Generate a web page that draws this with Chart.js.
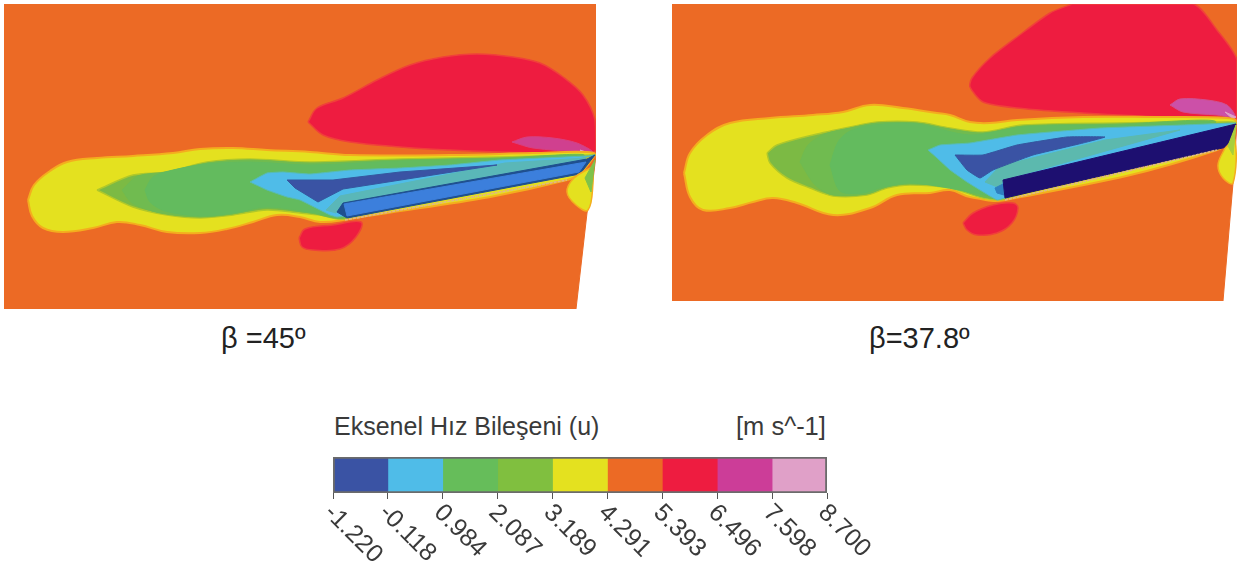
<!DOCTYPE html>
<html lang="tr"><head><meta charset="utf-8">
<script src="https://cdn.jsdelivr.net/npm/chart.js@4"></script>
<style>
html,body{margin:0;padding:0;background:#fff;width:1240px;height:571px;overflow:hidden;font-family:"Liberation Sans",Arial,sans-serif}
canvas{position:absolute;display:block}
#c45{left:4px;top:4px;filter:blur(.7px)}
#c378{left:672px;top:4px;filter:blur(.7px)}
#cbar{left:300px;top:450px;filter:blur(.4px)}
.t{position:absolute;white-space:nowrap;color:#222}
#cap1{left:221px;top:322px;font-size:29px}
#cap2{left:869px;top:322px;font-size:29px}
#lt{left:334px;top:412px;font-size:25px;color:#3a3a3a}
#lu{left:736px;top:412px;font-size:25.5px;color:#3a3a3a}
</style></head><body>
<canvas id="c45" width="592" height="305"></canvas>
<canvas id="c378" width="565" height="297"></canvas>
<canvas id="cbar" width="600" height="121"></canvas>
<div class="t" id="cap1">β =45º</div>
<div class="t" id="cap2">β=37.8º</div>
<div class="t" id="lt">Eksenel Hız Bileşeni (u)</div>
<div class="t" id="lu">[m s^-1]</div>
<script>
// ---- colour scale ----
const levels = [-1.220,-0.118,0.984,2.087,3.189,4.291,5.393,6.496,7.598,8.700];
const bandColors = ['#3a53a4','#4fbce8','#66bd5a','#80bf3f','#e4e11f','#ec6a25','#ee1c40','#cc3d98','#e0a0c8'];

// ---- β = 45° contour outlines (x, y in the plot's own units) ----
const domain45 = [[4,4],[596,4],[596,155],[593,180],[587,213],[576,309],[4,309],[4,4]];
const red45 = [[308,122],[317,108],[343,98],[377,80],[410,65],[443,57],[477,54],[513,57],[540,63],[563,77],[583,95],[595,120],[596,150],[580,153],[500,152],[450,150],[400,147],[350,142],[323,135],[308,122]];
const pink45 = [[512,142],[527,137],[553,138],[577,143],[593,152],[580,152],[533,148],[512,142]];
const lilac45 = [[580,150],[595,155],[584,154],[580,150]];
const redSmall45 = [[299,238],[305,229],[333,225],[361,222],[356,237],[340,249],[313,250],[302,247],[299,238]];
const yellow45 = [[28,200],[34,185],[50,171],[67,162],[97,158],[133,156],[173,153],[200,149],[233,148],[267,150],[310,152],[350,155],[450,155],[533,153],[587,152],[595,155],[567,180],[343,220],[320,222],[300,217],[277,215],[253,222],[227,229],[200,233],[167,232],[140,225],[117,222],[93,228],[63,232],[43,228],[32,216],[28,200]];
const green45 = [[97,190],[133,175],[167,172],[207,162],[250,159],[310,162],[400,159],[500,157],[587,155],[595,155],[345,219],[320,215],[300,213],[267,210],[233,215],[200,218],[167,215],[133,207],[97,190]];
const greenMid45 = [[122,190],[138,176],[167,172],[207,163],[250,160],[310,163],[400,160],[500,158],[583,156],[345,218],[310,213],[267,208],[233,214],[200,217],[160,213],[132,203],[122,190]];
const greenIn45 = [[145,190],[153,177],[173,170],[207,164],[250,162],[310,165],[400,161],[500,159],[575,157],[345,217],[310,212],[267,207],[233,213],[200,216],[165,211],[150,202],[145,190]];
const cyan45 = [[250,182],[267,173],[283,172],[310,174],[350,170],[400,168],[450,165],[500,160],[587,156],[595,155],[345,216],[337,217],[330,215],[300,200],[287,197],[267,190],[250,182]];
const teal45 = [[505,163],[585,158],[585,162],[343,205],[336,213],[326,210],[340,196],[505,163]];
const blue45 = [[287,180],[300,180],[333,180],[400,172],[497,165],[343,189],[318,202],[295,188],[287,180]];
const navyTip45 = [[337,212],[343,203],[587,159],[595,155],[580,174],[347,218],[337,212]];
const blade45 = [[344,204],[586,162],[579,172],[347,216],[344,204]];
const edge45 = [[345,220],[567,180]];
const bump45 = [[592,167],[574,178],[567,192],[576,205],[588,210],[593,183],[592,167]];
const sliver45 = [[595,160],[585,178],[591,192],[595,160]];

// ---- β = 37.8° contour outlines ----
const domain378 = [[672,4],[1237,4],[1237,123],[1233,183],[1223,301],[672,301],[672,4]];
const red378 = [[1072,4],[1050,13],[1017,37],[990,58],[972,78],[970,87],[983,102],[1017,108],[1083,113],[1167,117],[1227,117],[1237,118],[1237,60],[1217,30],[1193,4],[1072,4]];
const pink378 = [[1170,105],[1180,99],[1207,100],[1227,105],[1235,117],[1217,115],[1183,112],[1170,105]];
const lilac378 = [[1225,112],[1236,117],[1233,119],[1225,112]];
const redSmall378 = [[963,223],[973,213],[993,205],[1013,203],[1018,208],[1012,223],[997,233],[977,235],[967,230],[963,223]];
const yellow378 = [[684,173],[690,153],[707,135],[730,123],[770,118],[813,115],[843,112],[870,105],[903,108],[937,113],[950,115],[970,122],[990,123],[1017,120],[1083,117],[1150,117],[1227,118],[1236,122],[1217,150],[1005,200],[970,197],[950,190],[930,193],[897,195],[870,208],[833,215],[797,203],[773,198],[753,202],[730,208],[703,210],[690,197],[684,173]];
const green378 = [[767,153],[777,145],[813,135],[850,127],[877,122],[917,122],[950,128],[983,132],[1023,125],[1117,123],[1217,122],[1236,123],[1005,199],[983,198],[950,188],[910,185],[887,188],[867,195],[833,196],[810,188],[787,178],[770,163],[767,153]];
const greenMid378 = [[800,162],[808,145],[825,134],[850,128],[877,123],[917,123],[950,129],[983,133],[1023,126],[1117,124],[1215,123],[1004,198],[983,197],[950,187],[910,184],[887,187],[867,194],[833,195],[815,185],[800,162]];
const greenIn378 = [[830,165],[838,142],[850,131],[873,125],[917,124],[970,135],[1023,127],[1117,125],[1210,124],[1003,196],[970,192],[943,187],[910,183],[883,187],[863,193],[840,191],[830,165]];
const cyan378 = [[928,150],[940,145],[970,143],[1017,135],[1100,128],[1183,125],[1233,123],[1236,123],[1005,198],[997,200],[967,182],[950,170],[937,158],[928,150]];
const teal378 = [[1105,140],[1180,130],[1003,180],[1000,188],[985,182],[1000,166],[1105,140]];
const blue378 = [[955,155],[983,155],[1017,145],[1067,137],[1105,137],[1083,143],[1033,155],[993,170],[980,178],[967,170],[955,155]];
const patch378 = [[995,188],[1003,184],[1004,195],[997,193],[995,188]];
const blade378 = [[1003,180],[1236,124],[1227,147],[1005,198],[1003,180]];
const edge378 = [[1005,200],[1217,150]];
const bump378 = [[1225,148],[1218,165],[1223,178],[1233,183],[1235,140],[1225,148]];
const sliver378 = [[1236,125],[1228,146],[1233,155],[1236,125]];

const xy = a => a.map(p => ({x:p[0], y:p[1]}));
// Paint order: earlier entries lie underneath later ones.
function region(pts, fill, edge, width, tension){
  return {data:xy(pts), showLine:true, fill:'shape', backgroundColor:fill, borderColor:edge||fill,
          borderWidth:width===undefined?1:width, tension:tension||0, pointRadius:0, pointHoverRadius:0};
}
function edgeLine(pts, color){
  return {data:xy(pts), showLine:true, fill:false, borderColor:color, borderWidth:1.6, borderDash:[3,1], pointRadius:0};
}
function contour(id, xmin, xmax, ymin, ymax, layers){
  layers.forEach((d,i)=>{ d.order = -i; });
  new Chart(document.getElementById(id), {
    type:'scatter', data:{datasets:layers},
    options:{responsive:false, animation:false, events:[],
      layout:{padding:0},
      plugins:{legend:{display:false}, tooltip:{enabled:false}},
      scales:{
        x:{type:'linear', display:false, min:xmin, max:xmax},
        y:{type:'linear', display:false, min:ymin, max:ymax, reverse:true}
      }}
  });
}
const ORANGE = bandColors[5], YEL = bandColors[4], RED = bandColors[6], GOLD = '#f4ad1e';
const OUTER_G = '#7cba44', MID_G = '#70bb50', INNER_G = '#63bb5e';
contour('c45',4,596,4,309,[
  region(domain45, ORANGE),
  region(red45, RED, '#f0403a', 1.5, .35),
  region(pink45, '#d0408f', '#d8407f', 1, .3),
  region(lilac45, bandColors[8]),
  region(redSmall45, RED, '#f0403a', 1.5, .4),
  region(yellow45, YEL, GOLD, 2, .4),
  region(green45, OUTER_G, '#b0c82a', 1.5, .3),
  region(greenMid45, MID_G, null, 1, .3),
  region(greenIn45, INNER_G, null, 1, .3),
  region(cyan45, bandColors[1], '#58bcb0', 1, .1),
  region(teal45, '#5ab7b8'),
  region(blue45, bandColors[0], '#35579f', 1, 0),
  region(navyTip45, '#1f4f8f'),
  region(blade45, '#3c7fdc', '#3c7fdc', 1),
  edgeLine(edge45, '#e2b488'),
  region(bump45, YEL, GOLD, 1.5, .4),
  region(sliver45, '#7fc24a')
]);
contour('c378',672,1237,4,301,[
  region(domain378, ORANGE),
  region(red378, RED, '#f0403a', 1.5, .25),
  region(pink378, '#cc50a8', '#d0508f', 1, .3),
  region(lilac378, bandColors[8]),
  region(redSmall378, RED, '#f0403a', 1.5, .4),
  region(yellow378, YEL, GOLD, 2, .4),
  region(green378, OUTER_G, '#b0c82a', 1.5, .3),
  region(greenMid378, MID_G, null, 1, .3),
  region(greenIn378, INNER_G, null, 1, .3),
  region(cyan378, bandColors[1], '#58bcb0', 1, .1),
  region(teal378, '#5cb9ae'),
  region(blue378, bandColors[0], '#35579f', 1, .1),
  region(patch378, '#2f7fc0'),
  region(blade378, '#1d0f70', '#1d0f70', 1),
  edgeLine(edge378, '#e2b488'),
  region(bump378, YEL, GOLD, 1.5, .4),
  region(sliver378, '#a9cf3a')
]);

// ---- colour bar ----
const bands = bandColors.map((c,i)=>({data:[[levels[i],levels[i+1]]], backgroundColor:c, borderWidth:0, barPercentage:1, categoryPercentage:1, order:1}));
bands.push({data:[[levels[0],levels[levels.length-1]]], backgroundColor:'rgba(0,0,0,0)', borderColor:'#6b6b6b', borderWidth:1.5, borderSkipped:false, barPercentage:1, categoryPercentage:1, order:0});
const slantedTicks = {id:'slantedTicks', afterDraw(chart){
  const s = chart.scales.x, ctx = chart.ctx;
  ctx.save();
  ctx.font = '25px "Liberation Sans", Arial, sans-serif';
  ctx.fillStyle = '#3a3a3a';
  ctx.textAlign = 'left'; ctx.textBaseline = 'middle';
  s.ticks.forEach(t=>{
    ctx.save();
    ctx.translate(s.getPixelForValue(t.value)-5, s.bottom+10);
    ctx.rotate(Math.PI/4);
    ctx.fillText(t.value.toFixed(3),0,0);
    ctx.restore();
  });
  ctx.restore();
}};
new Chart(document.getElementById('cbar'), {
  type:'bar', data:{labels:['u'], datasets:bands}, plugins:[slantedTicks],
  options:{indexAxis:'y', responsive:false, animation:false, events:[],
    layout:{padding:{left:33,right:73,top:7,bottom:72}},
    plugins:{legend:{display:false}, tooltip:{enabled:false}},
    scales:{
      x:{type:'linear', min:levels[0], max:levels[levels.length-1],
         afterBuildTicks(s){ s.ticks = levels.map(v=>({value:v})); },
         ticks:{display:false},
         grid:{drawOnChartArea:false, drawTicks:true, tickLength:6, color:'#555'},
         border:{display:false}},
      y:{stacked:true, display:false}
    }}
});
</script>
</body></html>
